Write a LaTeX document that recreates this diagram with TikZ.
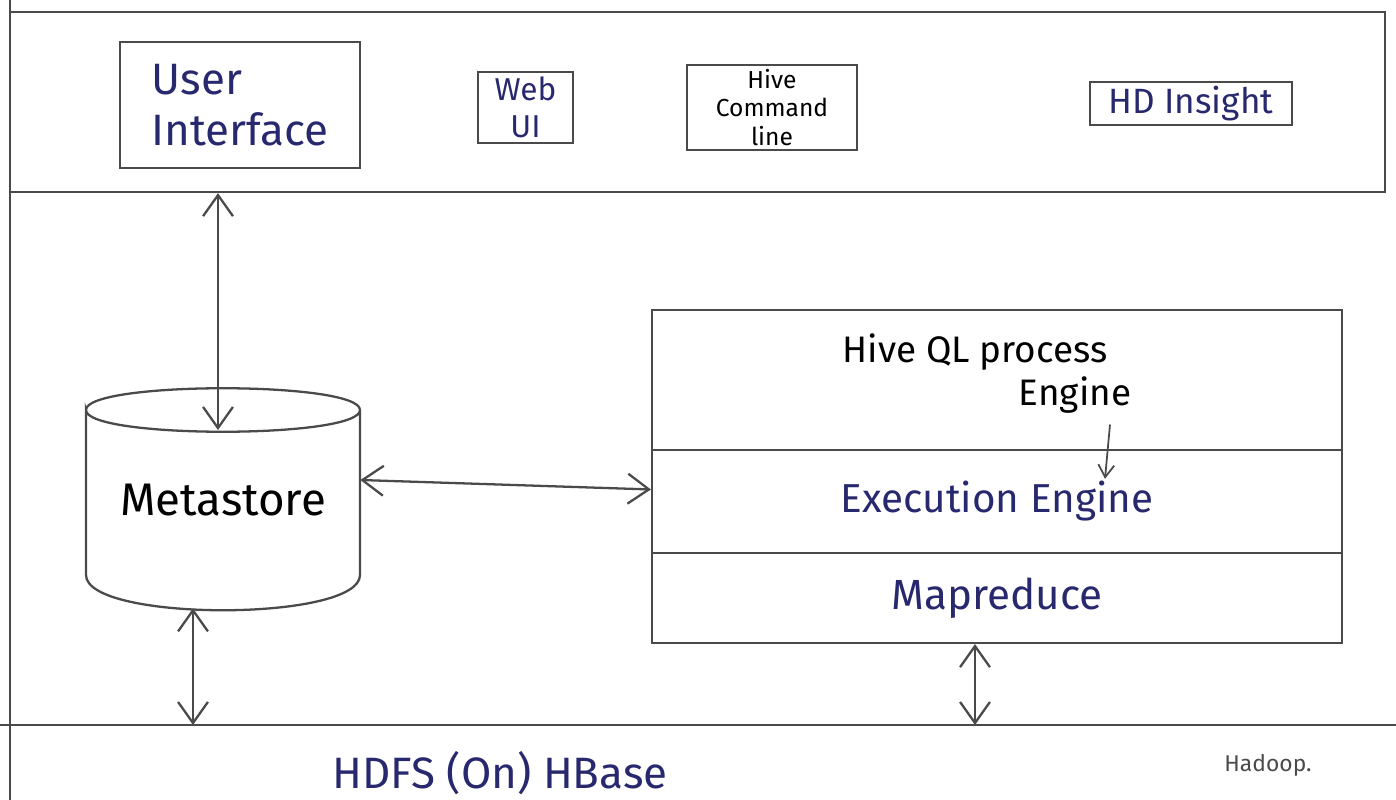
\documentclass[tikz,border=0pt]{standalone}
\usepackage{fontspec}
\setmainfont{Fira Sans}
\usetikzlibrary{positioning,calc,arrows.meta}
\definecolor{pencil}{HTML}{4A4A4A}
\definecolor{ink}{HTML}{28286E}
\newcommand\Hand[1]{\fontsize{#1}{1.15\dimexpr#1\relax}\selectfont}
\tikzset{
  pen/.style={draw=pencil,line width=1.3pt},
  box/.style={pen,inner sep=0pt},
  lbl/.style={align=center,text=ink},
  dbl/.style={pen,{Straight Barb[length=12pt,width=17pt]}-{Straight Barb[length=12pt,width=17pt]}},
  one/.style={pen,line width=1pt,-{Straight Barb[length=7pt,width=9pt]}}
}

\begin{document}
\begin{tikzpicture}[x=0.02cm,y=-0.02cm]
\useasboundingbox (0,0) rectangle (1396,800);

\draw[pen] (10,0) -- (10,800);
\node[box,minimum width=27.5cm,minimum height=3.6cm] (clients) at (697.5,102) {};
\node[box,lbl,align=left,minimum width=4.8cm,minimum height=2.52cm,font=\Hand{25pt}] (ui) at (240,105) {User\\Interface};
\node[box,lbl,minimum width=1.9cm,minimum height=1.42cm,font=\Hand{18pt}] (web) at (525.5,107.5) {Web\\UI};
\node[box,align=center,minimum width=3.4cm,minimum height=1.7cm,font=\Hand{14pt}] (cmd) at (772,107.5) {Hive\\Command\\line};
\node[box,lbl,minimum width=4.04cm,minimum height=0.86cm,font=\Hand{20pt}] (hdi) at (1191,103.5) {HD Insight};

\node[minimum width=5.48cm,minimum height=4.48cm,font=\Hand{26pt}] (meta) at (223,500) {Metastore};
\draw[pen] (86,410) .. controls (86,381) and (360,381) .. (360,410)
  .. controls (360,439) and (86,439) .. (86,410) -- (86,575)
  .. controls (86,622) and (360,622) .. (360,575) -- (360,410);
\coordinate (metalid) at (218,430);
\coordinate (metabase) at ($(meta.south)+(-30,-4)$);

\node[box,minimum width=13.8cm,minimum height=2.8cm] (hiveql) at (997,380) {};
\node[box,lbl,minimum width=13.8cm,minimum height=2.06cm,below=-1.3pt of hiveql,font=\Hand{23pt}] (exec) {Execution Engine};
\node[box,lbl,minimum width=13.8cm,minimum height=1.8cm,below=-1.3pt of exec,font=\Hand{24pt}] (mapred) {Mapreduce};
\node[font=\Hand{21pt}] (qlproc) at (975,352) {Hive QL process};
\node[font=\Hand{21pt}] (qleng) at (1075,395) {Engine};
\coordinate (mrtap) at ($(mapred.south)+(-22,0)$);

\coordinate (hdfsW) at (0,725);
\coordinate (hdfsE) at (1396,725);
\draw[pen] (hdfsW) -- (hdfsE);
\node[lbl,font=\Hand{25pt}] (hdfs) at (500,773) {HDFS (On) HBase};
\node[text=pencil,font=\Hand{13pt}] (hadoop) at (1268,765) {Hadoop.};

\draw[dbl] (clients.south -| metalid) -- (metalid);
\draw[dbl] ($(meta.east)+(0,-20)$) -- ($(exec.west)+(0,-12)$);
\draw[dbl] (metabase) -- (metabase |- hdfsW);
\draw[dbl] (mrtap) -- (mrtap |- hdfsW);
\draw[one] ($(qleng.south)+(35,5)$) -- ($(exec.north)+(108,30)$);
\end{tikzpicture}
\end{document}
